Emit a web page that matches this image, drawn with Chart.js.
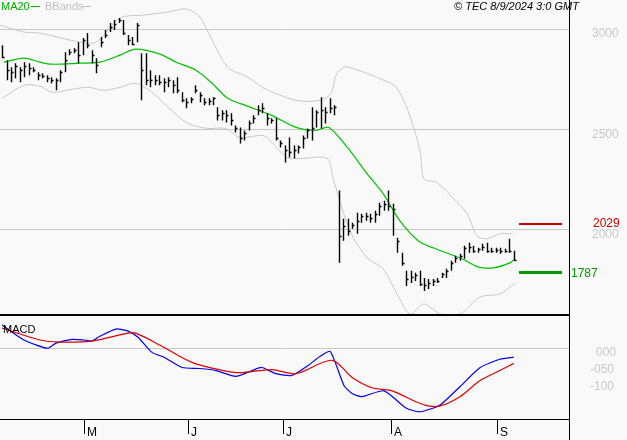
<!DOCTYPE html>
<html>
<head>
<meta charset="utf-8">
<script src="https://cdn.jsdelivr.net/npm/chart.js@4.4.0/dist/chart.umd.min.js"></script>
<style>
  body { margin: 0; background: #f9f9f9; }
  #wrap { position: relative; width: 627px; height: 440px; font-family: "Liberation Sans", Arial, sans-serif; }
  canvas { position: absolute; left: 0; }
</style>
</head>
<body>
<div id="wrap">
  <canvas id="priceChart" width="627" height="316" style="top:0"></canvas>
  <canvas id="macdChart" width="627" height="124" style="top:316px"></canvas>
</div>
<script>
// daily bars (index = trading day)
const highs = [2920,2845,2810,2830,2810,2835,2830,2810,2785,2780,2770,2760,2755,2795,2885,2900,2905,2935,2955,2980,2895,2855,2960,2995,3030,3045,3055,3045,2970,2960,3030,2880,2880,2795,2770,2770,2755,2760,2745,
  2760,2685,2655,2660,2720,2685,2655,2655,2660,2610,2595,2595,2580,2520,2510,2495,2545,2570,2620,2630,2580,2555,2555,2445,2420,2460,2420,2420,2470,2505,2610,2595,2660,2610,2655,2620,
  2195,2055,2055,2035,2085,2080,2085,2080,2095,2135,2145,2195,2130,1960,1885,1795,1795,1785,1795,1760,1755,1755,1760,1785,1805,1845,1870,1880,1920,1935,1920,1910,1930,1935,1910,1910,1910,1905,1955,1895];
const lows = [2855,2745,2735,2755,2735,2760,2770,2785,2745,2755,2735,2730,2695,2735,2785,2870,2880,2830,2870,2905,2830,2780,2910,2955,2985,2995,3030,2970,2920,2920,2935,2645,2720,2710,2720,2720,2685,2710,2680,
  2680,2635,2605,2630,2680,2635,2620,2620,2620,2545,2545,2535,2520,2485,2430,2445,2495,2530,2570,2580,2520,2530,2445,2410,2335,2360,2355,2380,2405,2455,2445,2510,2505,2530,2580,2570,
  1835,1945,1970,2005,1980,2035,2045,2035,2035,2070,2095,2095,1970,1885,1820,1720,1735,1745,1720,1695,1705,1720,1735,1760,1760,1795,1835,1845,1855,1885,1885,1885,1895,1885,1885,1885,1880,1885,1885,1845];
const closes = [2860,2795,2785,2815,2795,2815,2805,2795,2770,2765,2755,2745,2745,2785,2845,2885,2895,2870,2945,2920,2870,2820,2935,2970,3010,3025,3045,2980,2945,2925,3020,2795,2745,2745,2745,2735,2735,2745,2720,
  2695,2645,2635,2650,2695,2670,2635,2640,2655,2570,2580,2570,2545,2505,2455,2480,2530,2555,2595,2605,2555,2545,2455,2430,2395,2385,2395,2410,2455,2495,2505,2585,2595,2585,2605,2610,
  1970,2020,1995,2025,2045,2070,2070,2060,2080,2120,2130,2120,2105,1945,1835,1755,1765,1775,1730,1725,1735,1745,1745,1780,1795,1835,1860,1870,1910,1915,1895,1905,1915,1895,1895,1900,1895,1895,1895,1850];

// MA20 and Bollinger bands (x = day index)
const maDays = [0.4,4.9,8.5,11.1,17.4,21.8,26.3,29.8,35.2,38.8,43.2,46.8,50.3,54.8,60.1,65.5,69.9,72.8,77.1,81.3,84.9,88.6,92.7,96.0,102.0,106.0,109.4,113.1,114.3];
const maValues = [2835,2855,2835,2825,2830,2835,2870,2900,2875,2835,2795,2730,2655,2615,2570,2510,2495,2510,2405,2280,2180,2045,1945,1910,1860,1815,1810,1835,1855];
const upDays = [-0.4,4.9,8.5,17.4,20.9,26.3,31.6,37.0,41.0,44.1,45.9,50.3,54.8,58.4,65.5,70.8,73.3,74.4,76.2,78.0,85.1,87.8,90.4,93.1,94.0,96.9,100.4,103.6,105.8,108.0,110.9,113.8];
const upValues = [3020,2985,2980,2935,2935,3055,3070,3085,3100,3060,2985,2810,2760,2705,2645,2645,2680,2770,2810,2805,2745,2710,2595,2395,2255,2235,2160,2080,1970,1955,1980,1980];
const loDays = [0,4.9,8.5,11.1,15.6,19.2,22.7,26.3,29.8,33.4,37.0,41.4,45.9,49.7,53.0,58.1,59.7,63.5,66.4,72.4,73.7,77.5,81.3,84.9,88.0,90.9,94.0,97.6,102.0,106.5,110.9,114.3];
const loValues = [2655,2720,2715,2685,2700,2710,2695,2710,2730,2685,2610,2530,2505,2505,2460,2470,2445,2360,2355,2355,2260,1995,1860,1805,1680,1580,1630,1580,1580,1665,1680,1735];

// MACD panel
const macdDays = [0,4.9,10.2,12.0,15.6,18.3,20.0,21.8,25.4,28.1,30.3,33.4,36.1,40.1,44.1,47.7,52.1,55.7,57.9,61.0,64.6,68.2,70.8,73.1,76.2,78.0,80.2,85.1,90.0,93.1,97.6,102.0,106.5,110.9,114.0];
const macdValues = [68,24,0,15,26,24,21,35,56,50,32,-12,-26,-56,-59,-65,-82,-65,-56,-74,-79,-50,-24,-9,-109,-132,-141,-124,-174,-185,-165,-112,-56,-32,-26];
const signalDays = [0,8.5,12.9,20.0,28.1,29.8,35.2,42.3,49.4,53.0,60.1,65.5,73.5,78.0,82.4,86.9,92.2,94.9,97.6,102.0,106.5,110.9,114.0];
const signalValues = [59,24,18,21,44,44,9,-41,-65,-71,-62,-74,-35,-85,-115,-124,-156,-168,-168,-141,-94,-65,-44];

const monthLabels = ['M', 'J', 'J', 'A', 'S'];
const monthDays = [18.3, 41.4, 62.6, 86.6, 110.2];
const priceTicks = [3000, 2500, 2000];
const macdTicks = [0, -50, -100];
const macdTickLabels = ['000', '-050', '-100'];
const resistance = 2029;
const support = 1787;

const xMin = -0.45, xMax = 126.3;
const pts = (xs, ys) => xs.map((x, i) => ({ x: x, y: ys[i] }));
const fitRight = (axis) => { axis.width = 58; };

const ohlcPlugin = {
    id: 'ohlc',
    afterDatasetsDraw(chart) {
        const c = chart.ctx, xs = chart.scales.x, ys = chart.scales.y;
        c.save();
        c.strokeStyle = '#000';
        c.lineWidth = 1.4;
        closes.forEach((cl, i) => {
            const x = Math.round(xs.getPixelForValue(i)) + 0.5;
            c.beginPath();
            c.moveTo(x, ys.getPixelForValue(highs[i]));
            c.lineTo(x, ys.getPixelForValue(lows[i]));
            const yc = Math.round(ys.getPixelForValue(cl)) + 0.5;
            c.moveTo(x, yc);
            c.lineTo(x + 2, yc);
            c.stroke();
        });
        c.restore();
    },
    afterDraw(chart) {
        const c = chart.ctx, ys = chart.scales.y, area = chart.chartArea;
        c.save();
        // frame
        c.fillStyle = '#000';
        c.fillRect(569, 0, 1, 316);
        c.fillRect(0, 314, 570, 2);
        // right-hand price labels
        c.font = '12px "Liberation Sans", Arial';
        c.textBaseline = 'middle';
        c.fillStyle = '#c8c8c8';
        priceTicks.forEach(v => c.fillText(String(v), 592, ys.getPixelForValue(v) + 5));
        // resistance / support
        const yr = ys.getPixelForValue(resistance), ysu = ys.getPixelForValue(support);
        c.fillStyle = '#cc0000';
        c.fillRect(519, Math.round(yr) - 1, 43, 2);
        c.fillText(String(resistance), 593, yr);
        c.fillStyle = '#009900';
        c.fillRect(519, Math.round(ysu) - 1, 43, 3);
        c.fillText(String(support), 571, ysu + 1);
        // legend
        c.font = '11px "Liberation Sans", Arial';
        c.textBaseline = 'top';
        c.fillStyle = '#00b000';
        c.fillText('MA20', 1, 1);
        c.fillRect(31, 6, 9, 1);
        c.fillStyle = '#c0c0c0';
        c.fillText('BBands', 45, 1);
        c.fillRect(82, 6, 9, 1);
        c.fillStyle = '#000';
        c.font = 'italic 11px "Liberation Sans", Arial';
        c.fillText('\u00a9 TEC 8/9/2024 3:0 GMT', 454, 1);
        c.restore();
    }
};

new Chart(document.getElementById('priceChart'), {
    type: 'line',
    data: {
        datasets: [
            { data: pts(upDays, upValues), borderColor: '#c8c8c8', borderWidth: 1, pointRadius: 0, tension: 0.3 },
            { data: pts(loDays, loValues), borderColor: '#c8c8c8', borderWidth: 1, pointRadius: 0, tension: 0.3 },
            { data: pts(maDays, maValues), borderColor: '#00c000', borderWidth: 1.2, pointRadius: 0, tension: 0.3 },
        ],
    },
    options: {
        responsive: false,
        animation: false,
        layout: { padding: 0 },
        scales: {
            x: { type: 'linear', min: xMin, max: xMax, display: false },
            y: {
                position: 'right', min: 1570, max: 3145, afterFit: fitRight,
                border: { display: false },
                grid: { color: '#c8c8c8', drawTicks: false },
                afterBuildTicks: (axis) => { axis.ticks = priceTicks.map(v => ({ value: v })); },
                ticks: { display: false },
            },
        },
        plugins: { legend: { display: false }, tooltip: { enabled: false } },
    },
    plugins: [ohlcPlugin],
});

const macdPlugin = {
    id: 'macdFrame',
    afterDraw(chart) {
        const c = chart.ctx, xs = chart.scales.x, ys = chart.scales.y;
        c.save();
        c.fillStyle = '#000';
        c.fillRect(569, 0, 1, 124);
        c.fillRect(0, 103, 570, 1);
        c.font = '11px "Liberation Sans", Arial';
        c.textBaseline = 'top';
        c.fillText('MACD', 3, 8);
        c.font = '12px "Liberation Sans", Arial';
        c.textBaseline = 'middle';
        c.fillStyle = '#c8c8c8';
        macdTicks.forEach((v, i) => c.fillText(macdTickLabels[i], 596 - (i ? 6 : 0), ys.getPixelForValue(v) + 4));
        c.fillStyle = '#000';
        monthDays.forEach((d, i) => {
            const x = Math.round(xs.getPixelForValue(d));
            c.fillRect(x, 104, 1, 14);
            c.fillText(monthLabels[i], x + 3, 117);
        });
        c.restore();
    }
};

new Chart(document.getElementById('macdChart'), {
    type: 'line',
    data: {
        datasets: [
            { data: pts(signalDays, signalValues), borderColor: '#dd0000', borderWidth: 1.2, pointRadius: 0, tension: 0.3 },
            { data: pts(macdDays, macdValues), borderColor: '#0000ee', borderWidth: 1.2, pointRadius: 0, tension: 0.2 },
        ],
    },
    options: {
        responsive: false,
        animation: false,
        layout: { padding: { bottom: 20 } },
        scales: {
            x: { type: 'linear', min: xMin, max: xMax, display: false },
            y: {
                position: 'right', min: -209, max: 94, afterFit: fitRight,
                border: { display: false },
                grid: { color: '#c8c8c8', drawTicks: false },
                afterBuildTicks: (axis) => { axis.ticks = [{ value: 0 }]; },
                ticks: { display: false },
            },
        },
        plugins: { legend: { display: false }, tooltip: { enabled: false } },
    },
    plugins: [macdPlugin],
});
</script>
</body>
</html>
